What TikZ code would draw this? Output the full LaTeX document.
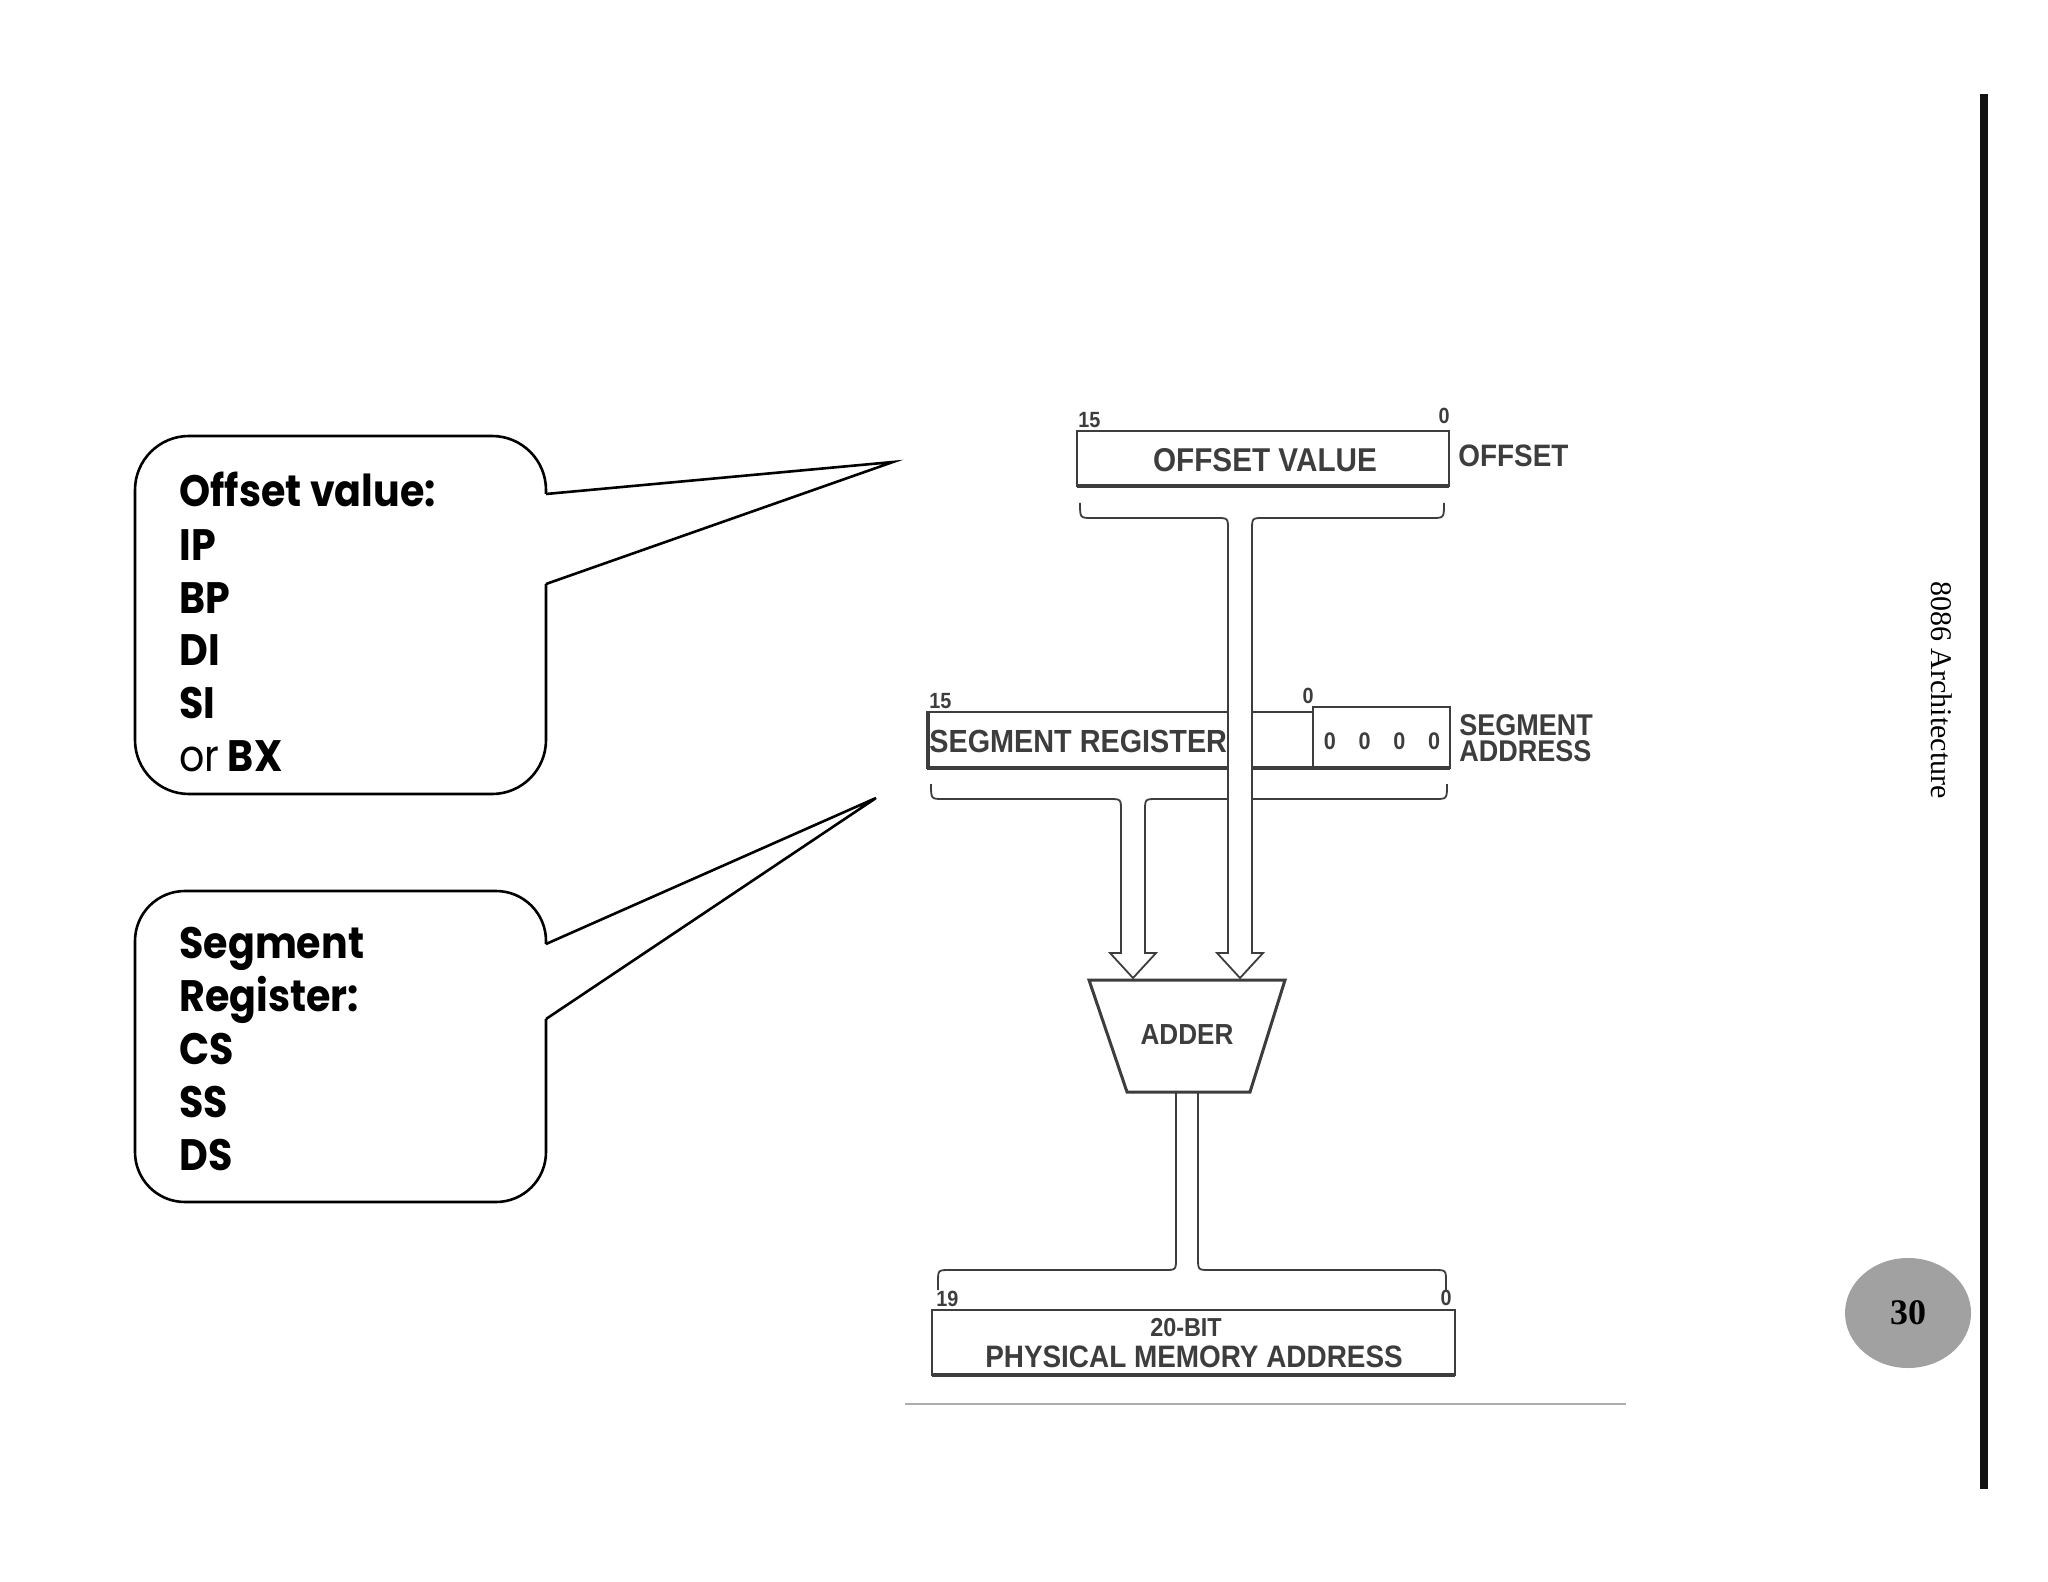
\documentclass[tikz,border=0pt]{standalone}
\usepackage{fontspec}
\usetikzlibrary{shapes.geometric}
\setmainfont{Liberation Serif}
\newfontfamily\callfont{Poppins}[FakeStretch=0.9]
\newfontfamily\diagfont{Liberation Sans}[FakeStretch=0.9]
\newfontfamily\serifn{Liberation Serif}
\definecolor{dg}{gray}{0.24}
\definecolor{pgray}{gray}{0.63}
\definecolor{lgray}{gray}{0.68}
\tikzset{
  bus/.style={draw=dg, line width=0.9pt, fill=white, line join=miter},
  regbox/.style={draw=dg, line width=1.2pt, fill=white},
  thickbot/.style={draw=dg, line width=2.3pt},
  dtext/.style={font=\diagfont\bfseries, text=dg, inner sep=0pt},
  calltext/.style={font=\callfont\bfseries\fontsize{22}{26}\selectfont, anchor=base west, inner sep=0pt},
  bubble/.style={draw=black, line width=1.3pt, line join=miter},
}
\begin{document}
\begin{tikzpicture}[x=0.5pt, y=-0.5pt]
\useasboundingbox (0,0) rectangle (2048,1582);
\fill[white] (0,0) rectangle (2048,1582);

% ---------- callout 1 ----------
\coordinate (t1) at (893,462);
\coordinate (b1a) at (546,494);
\coordinate (b1b) at (546,584);
\draw[bubble, rounded corners=27pt] (b1b) -- (546,794) -- (135,794) -- (135,436) -- (546,436) -- (b1a);
\draw[bubble] (b1a) -- (t1) -- (b1b);
\node[calltext] (c1l1) at (179,507) {Offset value:};
\node[calltext] (c1l2) at (179,560) {IP};
\node[calltext] (c1l3) at (179,613) {BP};
\node[calltext] (c1l4) at (179,665) {DI};
\node[calltext] (c1l5) at (179,718) {SI};
\node[calltext] (c1l6) at (179,771) {{\mdseries or} BX};

% ---------- callout 2 ----------
\coordinate (t2) at (876,798);
\coordinate (b2a) at (546,944);
\coordinate (b2b) at (546,1019);
\draw[bubble, rounded corners=25pt] (b2b) -- (546,1202) -- (135,1202) -- (135,891) -- (546,891) -- (b2a);
\draw[bubble] (b2a) -- (t2) -- (b2b);
\node[calltext] (c2l1) at (179,958) {Segment};
\node[calltext] (c2l2) at (179,1011) {Register:};
\node[calltext] (c2l3) at (179,1064) {CS};
\node[calltext] (c2l4) at (179,1117) {SS};
\node[calltext] (c2l5) at (179,1170) {DS};

% ---------- offset register ----------
\draw[regbox] (1077,431) rectangle (1449,486);
\draw[thickbot] (1077,486) -- (1449,486);
\node[dtext, font=\diagfont\bfseries\fontsize{16.5}{18}\selectfont] (offv) at (1265,460) {OFFSET VALUE};
\node[dtext, font=\diagfont\bfseries\fontsize{11}{12}\selectfont, anchor=south west] (o15) at (1078,428) {15};
\node[dtext, font=\diagfont\bfseries\fontsize{11}{12}\selectfont, anchor=south east] (o0) at (1450,424) {0};
\node[dtext, font=\diagfont\bfseries\fontsize{15.5}{17}\selectfont, anchor=west] (offl) at (1458,456) {OFFSET};

% ---------- segment register ----------
\draw[regbox] (927,712) rectangle (1313,768);
\draw[regbox] (1313,707) rectangle (1450,768);
\draw[thickbot] (927,768) -- (1450,768);
\draw[dg, line width=2.2pt] (928,712) -- (928,768);
\node[dtext, font=\diagfont\bfseries\fontsize{16}{18}\selectfont, anchor=west] (segr) at (929,741) {SEGMENT REGISTER};
\node[dtext, font=\diagfont\bfseries\fontsize{12}{13}\selectfont] (zeros) at (1382,741) {0\hspace{0.95em}0\hspace{0.95em}0\hspace{0.95em}0};
\node[dtext, font=\diagfont\bfseries\fontsize{11}{12}\selectfont, anchor=south west] (s15) at (929,709) {15};
\node[dtext, font=\diagfont\bfseries\fontsize{11}{12}\selectfont, anchor=south east] (s0) at (1314,704) {0};
\node[dtext, font=\diagfont\bfseries\fontsize{15}{14}\selectfont, anchor=west] (sgl1) at (1459,725) {SEGMENT};
\node[dtext, font=\diagfont\bfseries\fontsize{15}{14}\selectfont, anchor=west] (sgl2) at (1459,751) {ADDRESS};

% ---------- segment bus ----------
\draw[bus] (931,784) .. controls (931,799) .. (943,799) -- (1109,799)
  .. controls (1121,799) .. (1121,811) -- (1121,953) -- (1110,953) -- (1133,978)
  -- (1156,953) -- (1145,953) -- (1145,811) .. controls (1145,799) .. (1157,799)
  -- (1435,799) .. controls (1447,799) .. (1447,784);

% ---------- offset bus ----------
\draw[bus] (1080,503) .. controls (1080,518) .. (1092,518) -- (1216,518)
  .. controls (1228,518) .. (1228,530) -- (1228,953) -- (1217,953) -- (1240,978)
  -- (1263,953) -- (1252,953) -- (1252,530) .. controls (1252,518) .. (1264,518)
  -- (1432,518) .. controls (1444,518) .. (1444,503);

% ---------- output bus ----------
\draw[bus, fill=none] (1176,1090) -- (1176,1258) .. controls (1176,1270) .. (1164,1270)
  -- (950,1270) .. controls (938,1270) .. (938,1282) -- (938,1290);
\draw[bus, fill=none] (1198,1090) -- (1198,1258) .. controls (1198,1270) .. (1210,1270)
  -- (1434,1270) .. controls (1446,1270) .. (1446,1282) -- (1446,1290);

% ---------- adder ----------
\draw[draw=dg, line width=1.5pt, fill=white, line join=miter] (1089,980) -- (1285,980) -- (1250,1092) -- (1127,1092) -- cycle;
\node[dtext, font=\diagfont\bfseries\fontsize{14.5}{16}\selectfont] (adder) at (1187,1035) {ADDER};

% ---------- physical address ----------
\draw[regbox] (932,1310) rectangle (1455,1375);
\draw[thickbot] (932,1375) -- (1455,1375);
\node[dtext, font=\diagfont\bfseries\fontsize{13}{14}\selectfont] (bit20) at (1186,1328) {20-BIT};
\node[dtext, font=\diagfont\bfseries\fontsize{15.5}{17}\selectfont] (pma) at (1194,1357) {PHYSICAL MEMORY ADDRESS};
\node[dtext, font=\diagfont\bfseries\fontsize{11}{12}\selectfont, anchor=south west] (p19) at (936,1307) {19};
\node[dtext, font=\diagfont\bfseries\fontsize{11}{12}\selectfont, anchor=south east] (p0) at (1452,1306) {0};

% ---------- baseline ----------
\draw[lgray, line width=1.2pt] (905,1404) -- (1626,1404);

% ---------- page furniture ----------
\fill[black!93] (1980,94) rectangle (1988,1489);
\node[rotate=-90, font=\serifn\fontsize{15}{18}\selectfont, inner sep=0pt] (title) at (1942,690) {8086 Architecture};
\node[ellipse, fill=pgray, minimum width=63pt, minimum height=55pt, inner sep=0pt, font=\serifn\bfseries\fontsize{18}{20}\selectfont] (pn) at (1908,1313) {30};
\end{tikzpicture}
\end{document}
